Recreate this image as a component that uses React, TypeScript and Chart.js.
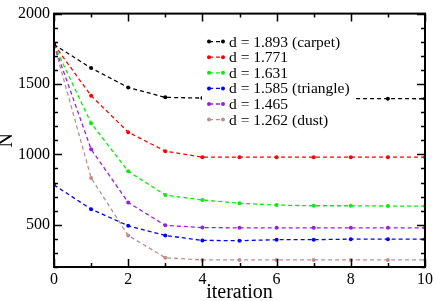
import React, { useEffect, useRef } from "react";
import { Chart, registerables } from "chart.js";

Chart.register(...registerables);

const ITERATIONS = [0, 1, 2, 3, 4, 5, 6, 7, 8, 9, 10];
const SERIES_LABELS = [
  "d = 1.893 (carpet)",
  "d = 1.771",
  "d = 1.631",
  "d = 1.585 (triangle)",
  "d = 1.465",
  "d = 1.262 (dust)",
];
const SERIES_COLORS = ["#000000", "#ff0000", "#00f000", "#0000ff", "#9a1ee6", "#bc8f8f"];
const CARPET = [1780, 1613, 1475, 1405, 1400, 1398, 1397, 1397, 1396, 1396, 1395];
const D1771 = [1780, 1417, 1158, 1023, 980, 980, 980, 980, 980, 980, 980];
const D1631 = [1780, 1222, 880, 711, 676, 653, 640, 635, 635, 633, 633];
const TRIANGLE = [783, 611, 493, 424, 389, 387, 394, 394, 398, 398, 398];
const D1465 = [1780, 1037, 658, 496, 480, 478, 478, 478, 478, 478, 478];
const DUST = [1780, 833, 424, 266, 250, 250, 250, 250, 250, 250, 250];
const SERIES_VALUES = [CARPET, D1771, D1631, TRIANGLE, D1465, DUST];

const X_LABEL_TICKS = [0, 2, 4, 6, 8, 10];
const Y_LABEL_TICKS = [500, 1000, 1500, 2000];

const FONT = "'Liberation Serif', 'Times New Roman', serif";

const legendBgPlugin = {
  id: "legendBg",
  afterDatasetsDraw(chart: any) {
    const { ctx, chartArea } = chart;
    ctx.save();
    ctx.fillStyle = "#fff";
    ctx.fillRect(chartArea.left + 148, chartArea.top + 19, 151, 97);
    ctx.restore();
  },
};

const framePlugin = {
  id: "frameTicks",
  afterDraw(chart: any) {
    const { ctx, chartArea } = chart;
    const xs = chart.scales.x;
    const ys = chart.scales.y;
    const { left, right, top, bottom } = chartArea;
    ctx.save();
    ctx.strokeStyle = "#000";
    ctx.lineWidth = 1.5;
    ctx.beginPath();
    xs.ticks.forEach((t: any) => {
      const px = Math.round(xs.getPixelForValue(t.value)) + 0.5;
      const len = X_LABEL_TICKS.includes(t.value) ? 8 : 4;
      ctx.moveTo(px, bottom);
      ctx.lineTo(px, bottom - len);
      ctx.moveTo(px, top);
      ctx.lineTo(px, top + len);
    });
    ys.ticks.forEach((t: any) => {
      const py = Math.round(ys.getPixelForValue(t.value)) + 0.5;
      const len = Y_LABEL_TICKS.includes(t.value) ? 8 : 4;
      ctx.moveTo(left, py);
      ctx.lineTo(left + len, py);
      ctx.moveTo(right, py);
      ctx.lineTo(right - len, py);
    });
    ctx.stroke();
    ctx.lineWidth = 2;
    ctx.strokeRect(left, top, right - left, bottom - top);

    // legend
    const lx0 = left + 155;
    const lx1 = left + 169;
    const tx = left + 175;
    ctx.font = `15.5px ${FONT}`;
    ctx.textBaseline = "middle";
    ctx.textAlign = "left";
    chart.data.datasets.forEach((ds: any, i: number) => {
      const y = top + 28 + i * 15.6;
      ctx.strokeStyle = ds.borderColor;
      ctx.fillStyle = ds.borderColor;
      ctx.lineWidth = 1.3;
      ctx.setLineDash([4, 3]);
      ctx.beginPath();
      ctx.moveTo(lx0, y);
      ctx.lineTo(lx1, y);
      ctx.stroke();
      ctx.setLineDash([]);
      [lx0, lx1].forEach((x) => {
        ctx.beginPath();
        ctx.arc(x, y, 2, 0, Math.PI * 2);
        ctx.fill();
      });
      ctx.fillStyle = "#000";
      ctx.fillText(ds.label, tx, y + 1);
    });
    ctx.restore();
  },
};

export default function App() {
  const ref = useRef<HTMLCanvasElement>(null);
  useEffect(() => {
    document.body.style.margin = "0";
    const canvas = ref.current!;
    const chart = new Chart(canvas, {
      type: "line",
      data: {
        datasets: SERIES_VALUES.map((vals, i) => ({
          label: SERIES_LABELS[i],
          data: ITERATIONS.map((x, j) => ({ x, y: vals[j] })),
          borderColor: SERIES_COLORS[i],
          backgroundColor: SERIES_COLORS[i],
          borderWidth: 1.3,
          borderDash: [4, 3],
          pointRadius: 2,
          pointBorderWidth: 0,
          pointBackgroundColor: SERIES_COLORS[i],
          tension: 0,
          fill: false,
        })),
      },
      options: {
        animation: false,
        responsive: false,
        layout: { padding: { top: 7, right: 10, left: 0, bottom: 0 } },
        plugins: { legend: { display: false }, tooltip: { enabled: false } },
        scales: {
          x: {
            type: "linear",
            min: 0,
            max: 10,
            grid: { display: false, drawTicks: false },
            border: { display: false },
            ticks: {
              stepSize: 1,
              padding: 3,
              maxRotation: 0,
              autoSkip: false,
              color: "#000",
              font: { family: FONT, size: 16 },
              callback: (v: any) => (X_LABEL_TICKS.includes(v) ? String(v) : ""),
            },
            title: {
              display: true,
              text: "iteration",
              color: "#000",
              font: { family: FONT, size: 20, lineHeight: 0.8 },
              padding: { top: 0, bottom: 0 },
            },
            afterFit: (s: any) => {
              s.height = 34;
            },
          },
          y: {
            type: "linear",
            min: 200,
            max: 2000,
            grid: { display: false, drawTicks: false },
            border: { display: false },
            ticks: {
              stepSize: 100,
              padding: 4,
              autoSkip: false,
              color: "#000",
              font: { family: FONT, size: 16 },
              callback: (v: any) => (Y_LABEL_TICKS.includes(v) ? String(v) : ""),
            },
            title: {
              display: true,
              text: "N",
              color: "#000",
              font: { family: FONT, size: 20, lineHeight: 0.7 },
              padding: { top: 0, bottom: 0 },
            },
            afterFit: (s: any) => {
              s.width = 54;
            },
          },
        },
      },
      plugins: [legendBgPlugin, framePlugin],
    });
    return () => chart.destroy();
  }, []);
  return (
    <div style={{ width: 436, height: 301 }}>
      <canvas ref={ref} width={436} height={301} />
    </div>
  );
}
